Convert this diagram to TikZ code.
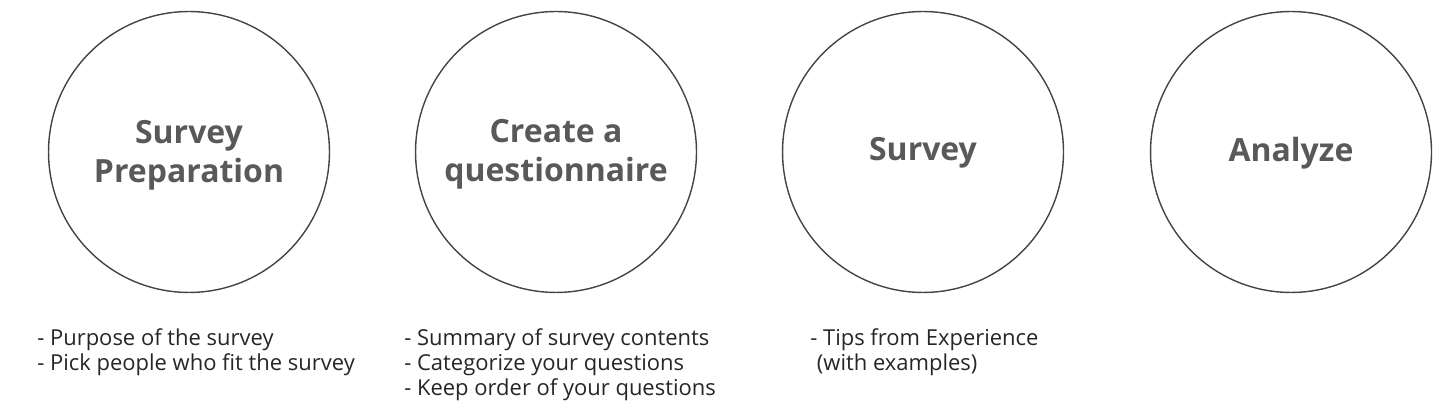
\documentclass[tikz,border=0pt]{standalone}
\usepackage{fontspec}
\setmainfont{Open Sans}
\usepackage{xcolor}
\usetikzlibrary{positioning}
\definecolor{titlegray}{HTML}{595959}
\definecolor{ringgray}{HTML}{444444}

\begin{document}
\begin{tikzpicture}[
    x=0.02cm, y=-0.02cm,
    stage/.style={circle, draw=ringgray, line width=0.8pt, minimum size=5.62cm},
    title/.style={align=center, text=titlegray, font=\fontsize{18.2}{22.2}\selectfont\bfseries},
    notes/.style={anchor=north west, align=left, inner sep=0pt, text=black!85,
        font=\fontsize{12.5}{14.2}\selectfont}
]
    \useasboundingbox (0,0) rectangle (1452,404);

    % Stages
    \node[stage] (prep) at (189, 152) {};
    \node[stage] (quest) at (556, 152) {};
    \node[stage] (run) at (923, 152) {};
    \node[stage] (anal) at (1291, 152) {};

    % Stage titles
    \node[title] (prep_title) at (189, 155) {Survey\\Preparation};
    \node[title] (quest_title) at (556, 154) {Create a\\questionnaire};
    \node[title] (run_title) at (923, 153) {Survey};
    \node[title] (anal_title) at (1291, 153) {Analyze};

    % Notes under the stages
    \node[notes] (prep_notes) at (37, 328) {- Purpose of the survey\\- Pick people who fit the survey};
    \node[notes] (quest_notes) at (404, 328) {- Summary of survey contents\\- Categorize your questions\\- Keep order of your questions};
    \node[notes] (run_notes) at (810, 328) {- Tips from Experience\\\hspace*{0.3em}(with examples)};
\end{tikzpicture}
\end{document}
